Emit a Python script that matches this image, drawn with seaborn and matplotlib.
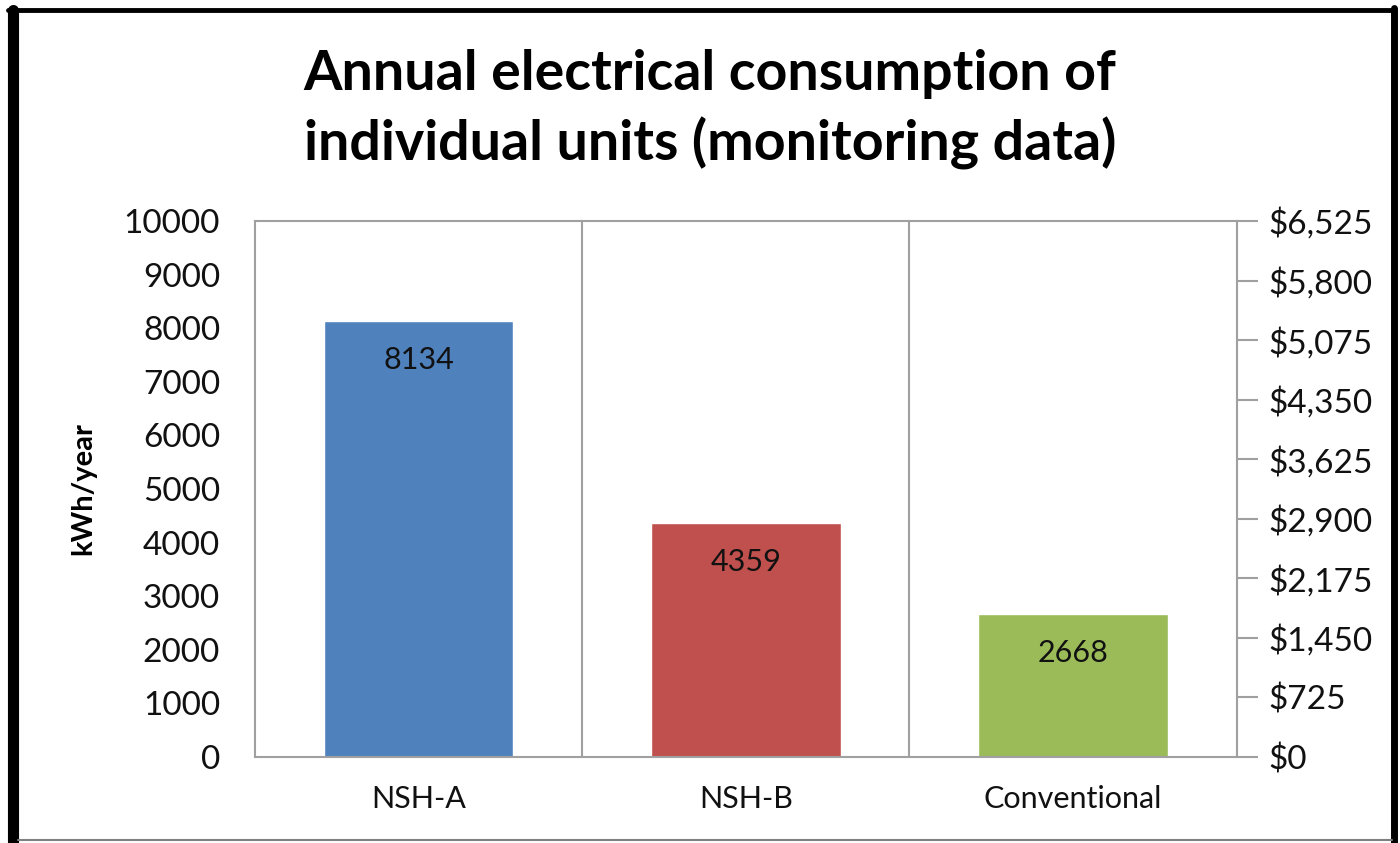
import matplotlib
matplotlib.use('Agg')
import matplotlib.pyplot as plt
import seaborn as sns
import pandas as pd
from matplotlib.lines import Line2D

# Chart data
units = ['NSH-A', 'NSH-B', 'Conventional']
kwh = [8134, 4359, 2668]
bar_colors = ['#4F81BD', '#C0504D', '#9BBB59']
left_ticks = list(range(0, 10001, 1000))
cost_ticks = [0, 725, 1450, 2175, 2900, 3625, 4350, 5075, 5800, 6525]

df = pd.DataFrame({'unit': units, 'kwh': kwh})

sns.set_theme(style='white')
plt.rcParams['font.family'] = ['Lato', 'DejaVu Sans']
plt.rcParams['text.color'] = 'black'

fig = plt.figure(figsize=(14, 8.43), dpi=100)
ax = fig.add_axes([0.182, 0.102, 0.7014, 0.6358])

sns.barplot(data=df, x='unit', y='kwh', hue='unit', palette=bar_colors,
            width=0.58, legend=False, ax=ax, saturation=1)

ax.set_xlim(-0.5, 2.5)
ax.set_ylim(0, 10000)
ax.set_yticks(left_ticks)
ax.tick_params(axis='y', labelsize=24, length=0, pad=25, colors='#111111')
ax.tick_params(axis='x', labelsize=22, length=0, pad=20, colors='#111111')
ax.set_xlabel('')
ax.set_ylabel('kWh/year', fontsize=21, fontweight='bold', labelpad=20, color='black')

# separators between categories
for xpos in [0.5, 1.5]:
    ax.axvline(xpos, color='#a0a0a0', lw=1.5, zorder=0)

for side in ['left', 'right', 'top', 'bottom']:
    ax.spines[side].set_visible(True)
    ax.spines[side].set_color('#a0a0a0')
    ax.spines[side].set_linewidth(1.5)

# value labels inside bars
for i, v in enumerate(kwh):
    ax.text(i, v - 720, str(v), ha='center', va='center', fontsize=22, color='#111111')

# secondary axis for cost
ax2 = ax.twinx()
ax2.set_ylim(0, 6525)
ax2.set_yticks(cost_ticks)
ax2.set_yticklabels(['${:,}'.format(c) for c in cost_ticks])
ax2.tick_params(axis='y', labelsize=24, length=15, width=1.5, color='#a0a0a0',
                pad=8, labelcolor='#111111')
for side in ['left', 'right', 'top', 'bottom']:
    ax2.spines[side].set_visible(False)
ax2.grid(False)

fig.suptitle('Annual electrical consumption of\nindividual units (monitoring data)',
             x=0.507, y=0.942, fontsize=40, fontweight='bold', linespacing=1.4,
             color='black')

# frame around the figure: black on left/top/right, thin gray at the bottom
fig.add_artist(Line2D([0.0095, 0.0095], [0.0, 0.988], transform=fig.transFigure,
                      color='black', lw=8))
fig.add_artist(Line2D([0.006, 0.996], [0.988, 0.988], transform=fig.transFigure,
                      color='black', lw=3.5))
fig.add_artist(Line2D([0.996, 0.996], [0.0, 0.99], transform=fig.transFigure,
                      color='black', lw=5))
fig.add_artist(Line2D([0.013, 0.994], [0.003, 0.003], transform=fig.transFigure,
                      color='#808080', lw=1.5))

fig.savefig('out.png', dpi=100)
